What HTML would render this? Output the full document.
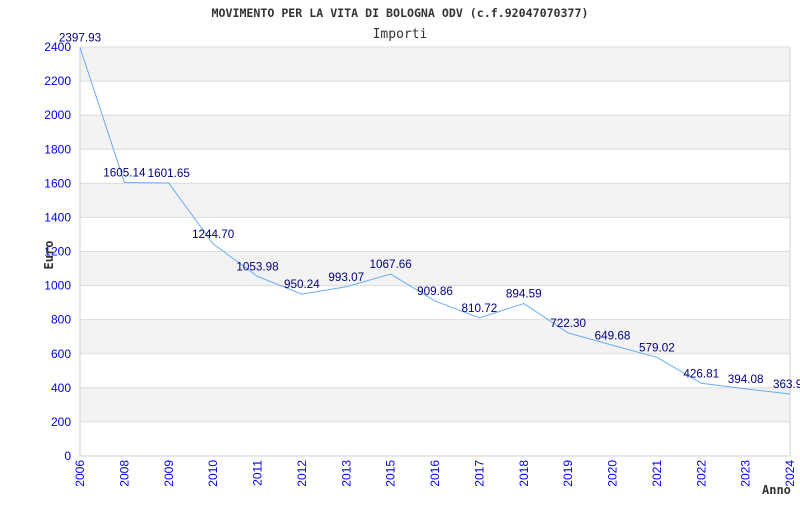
<!DOCTYPE html>
<html><head><meta charset="utf-8"><style>
body{margin:0;background:#fff;width:800px;height:500px;overflow:hidden}
svg text{font-family:"Liberation Sans",sans-serif}
</style></head><body>
<svg id="c" width="800" height="500">
<text x="400" y="17" text-anchor="middle" style="font-family:'DejaVu Sans Mono',monospace" font-size="11.6" font-weight="bold" fill="#333">MOVIMENTO PER LA VITA DI BOLOGNA ODV (c.f.92047070377)</text>
<text x="400" y="38" text-anchor="middle" style="font-family:'DejaVu Sans Mono',monospace" font-size="13" fill="#333">Importi</text>
<g id="bands"></g><g id="grid"></g><g id="axes"></g><g id="series"></g><g id="labels"></g>
<text x="53" y="255" text-anchor="middle" transform="rotate(-90 53 255)" style="font-family:'DejaVu Sans Mono',monospace" font-size="12" font-weight="bold" fill="#333">Euro</text>
<text x="762" y="494" style="font-family:'DejaVu Sans Mono',monospace" font-size="12" font-weight="bold" fill="#333">Anno</text>
</svg>
<script>
const years=["2006","2008","2009","2010","2011","2012","2013","2015","2016","2017","2018","2019","2020","2021","2022","2023","2024"];
const values=[2397.93,1605.14,1601.65,1244.70,1053.98,950.24,993.07,1067.66,909.86,810.72,894.59,722.30,649.68,579.02,426.81,394.08,363.9];
const valueLabels=["2397.93","1605.14","1601.65","1244.70","1053.98","950.24","993.07","1067.66","909.86","810.72","894.59","722.30","649.68","579.02","426.81","394.08","363.9"];
const yTicks=[0,200,400,600,800,1000,1200,1400,1600,1800,2000,2200,2400];
const NS="http://www.w3.org/2000/svg";
const L=80,R=790,T=47,B=456,yMax=2400;
const x=i=>L+(R-L)*i/(years.length-1);
const y=v=>B-(B-T)*v/yMax;
function mk(tag,attrs,parent,txt){const e=document.createElementNS(NS,tag);for(const k in attrs)e.setAttribute(k,attrs[k]);if(txt!==undefined)e.textContent=txt;document.getElementById(parent).appendChild(e);return e;}
for(let i=0;i<yTicks.length-1;i++){
  if((yTicks.length-2-i)%2===0){const r=mk('rect',{x:L,y:y(yTicks[i+1]),width:R-L,height:y(yTicks[i])-y(yTicks[i+1]),fill:'#f3f3f3'},'bands');
  
  }
}
yTicks.forEach(t=>{
  const g=mk('line',{x1:L,x2:R,y1:y(t),y2:y(t),stroke:'#dcdcdc','stroke-width':1},'grid');
  
  
  const tx=mk('text',{x:L-9,y:y(t)+4,'text-anchor':'end','font-size':12,fill:'#0000ee'},'axes',String(t));
  
  
});
const ax=mk('path',{d:`M${L} ${T}V${B}H${R}V${T}`,fill:'none',stroke:'#d0d0d0','stroke-width':1},'axes');


years.forEach((yr,i)=>{
  const tx=mk('text',{x:0,y:0,'text-anchor':'end','font-size':12,fill:'#0000ee',transform:`translate(${x(i)+4},${B+4}) rotate(-90)`},'axes',yr);
  
  
});
const pl=mk('polyline',{points:values.map((v,i)=>x(i)+','+y(v)).join(' '),fill:'none',stroke:'#6aaef0','stroke-width':1},'series');


values.forEach((v,i)=>{
  const tx=mk('text',{x:x(i),y:y(v)-6,'text-anchor':i===years.length-1?'start':'middle','font-size':11.7,fill:'#000080'},'labels',valueLabels[i]);
  if(i===years.length-1)tx.setAttribute('x',x(i)-17);
  
  
});
</script>
</body></html>
